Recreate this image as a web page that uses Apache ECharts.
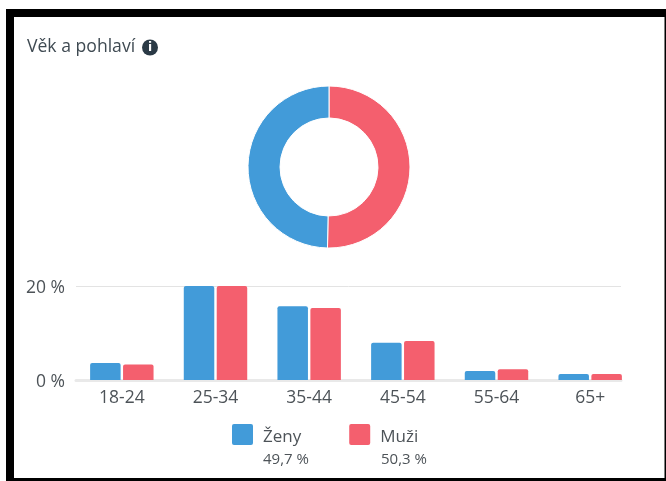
<!DOCTYPE html>
<html><head><meta charset="utf-8">
<style>html,body{margin:0;padding:0;background:#fff}#c{width:666px;height:481px}</style>
<script src="https://cdn.jsdelivr.net/npm/echarts@6/dist/echarts.min.js"></script>
</head><body><div id="c"></div>
<script>
var categories = ['18-24','25-34','35-44','45-54','55-64','65+'];
var zeny = [3.6,20,15.7,7.9,1.9,1.3];
var muzi = [3.3,20,15.3,8.3,2.3,1.3];
var shareNames = ['Muži','Ženy'];
var shareValues = [50.3,49.7];
var shareLabels = ['50,3 %','49,7 %'];
var yTicks = [0,20];
var title = 'Věk a pohlaví';
var BLUE='#429bd9', RED='#f45f6e', TXT='#4d5358', FONT='"Open Sans"';
var chart = echarts.init(document.getElementById('c'),null,{renderer:'canvas'});
chart.setOption({
  animation:false,
  backgroundColor:'#fff',
  title:{text:title,left:27,top:38,padding:0,textStyle:{fontFamily:FONT,fontSize:17.6,fontWeight:'normal',color:'#3f4a52'}},
  legend:{left:227,top:419,itemWidth:21,itemHeight:21,itemGap:48,
    icon:'path://M2 0H19Q21 0 21 2V19Q21 21 19 21H2Q0 21 0 19V2Q0 0 2 0Z',selectedMode:false,
    data:[{name:'Ženy'},{name:'Muži'}],
    formatter:function(n){return '{n|'+n+'}';},
    textStyle:{rich:{n:{fontFamily:FONT,fontSize:17,color:TXT,padding:[6,0,0,5]}}}},
  grid:[
    {left:75,width:562,top:286,height:94,containLabel:false},
    {left:76,width:545,top:286,height:94}
  ],
  xAxis:[
    {type:'category',gridIndex:0,data:categories,axisTick:{show:false},axisLine:{show:false},
      axisLabel:{fontFamily:FONT,fontSize:17.5,color:TXT,margin:9}},
    {type:'category',gridIndex:1,data:categories,axisTick:{show:false},axisLabel:{show:false},
      axisLine:{show:true,onZero:false,lineStyle:{color:'#e9e9e9',width:3}}}
  ],
  yAxis:[
    {type:'value',gridIndex:0,min:0,max:20,interval:20,show:false,splitLine:{show:false}},
    {type:'value',gridIndex:1,min:0,max:20,interval:20,axisLine:{show:false},axisTick:{show:false},
      splitLine:{lineStyle:{color:'#e3e3e3',width:1}},
      axisLabel:{margin:11,formatter:function(v){return yTicks.indexOf(v)>=0?'{t|'+v+' %}':'';},
        rich:{t:{fontFamily:FONT,fontSize:17.5,color:TXT,padding:[4,0,0,0]}}}}
  ],
  series:[
    {type:'bar',name:'Ženy',xAxisIndex:0,yAxisIndex:0,data:zeny,barWidth:30.5,barGap:'8%',z:3,
      itemStyle:{color:BLUE,borderRadius:[2,2,0,0]}},
    {type:'bar',name:'Muži',xAxisIndex:0,yAxisIndex:0,data:muzi,barWidth:30.5,barGap:'8%',z:3,
      itemStyle:{color:RED,borderRadius:[2,2,0,0]}},
    {type:'pie',center:[329,167],radius:[49,81],startAngle:90,clockwise:true,silent:true,
      label:{show:false},labelLine:{show:false},
      itemStyle:{borderColor:'#fff',borderWidth:1},
      data:[
        {name:shareNames[0],value:shareValues[0],itemStyle:{color:RED}},
        {name:shareNames[1],value:shareValues[1],itemStyle:{color:BLUE}}
      ]}
  ],
  graphic:[
    {type:'rect',shape:{x:6,y:9,width:660,height:8},style:{fill:'#000'},z:100},
    {type:'rect',shape:{x:6,y:9,width:8,height:472},style:{fill:'#000'},z:100},
    {type:'rect',shape:{x:6,y:478,width:660,height:3},style:{fill:'#000'},z:100},
    {type:'rect',shape:{x:664.5,y:9,width:1.5,height:472},style:{fill:'#000'},z:100},
    {type:'circle',shape:{cx:150,cy:47.5,r:8},style:{fill:'#2b3a46'},z:100},
    {type:'text',x:150,y:47.5,style:{text:'i',fill:'#fff',font:'bold 12px "DejaVu Sans"',align:'center',verticalAlign:'middle'},z:101},
    {type:'text',x:263,y:460,style:{text:shareLabels[1],fill:TXT,font:'15px '+FONT,align:'left',verticalAlign:'middle'},z:100},
    {type:'text',x:381,y:460,style:{text:shareLabels[0],fill:TXT,font:'15px '+FONT,align:'left',verticalAlign:'middle'},z:100}
  ]
});
</script></body></html>
